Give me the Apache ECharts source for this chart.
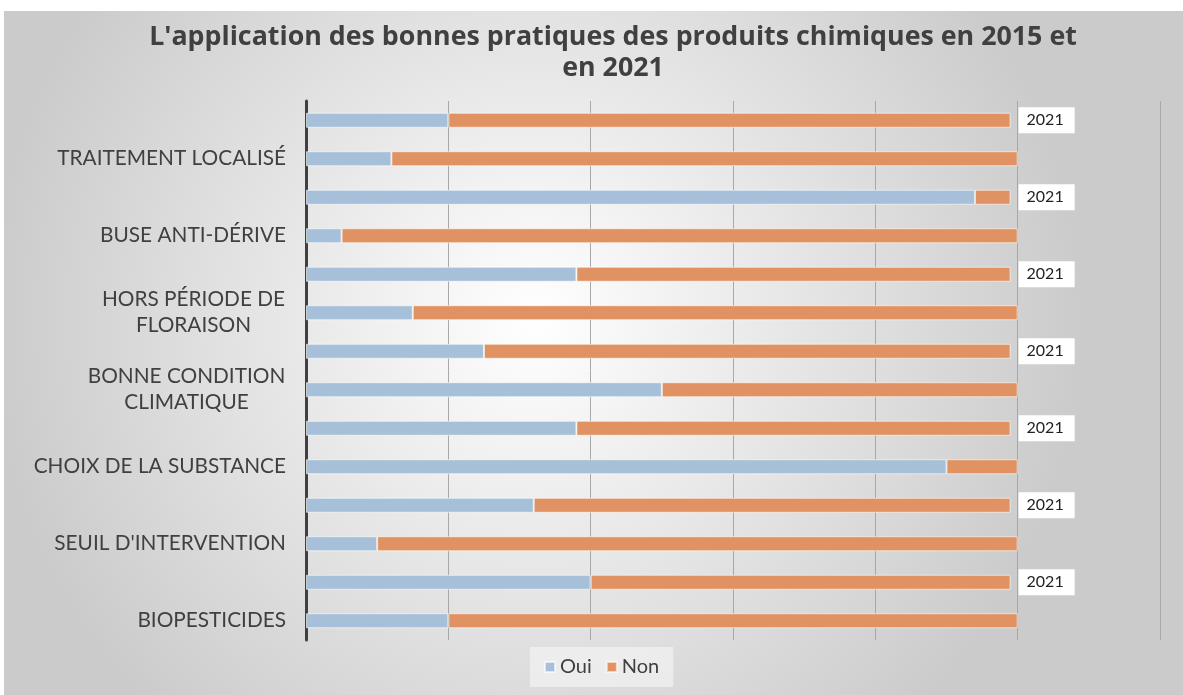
<!DOCTYPE html>
<html>
<head>
    <meta charset="utf-8">
    <script src="https://cdn.jsdelivr.net/npm/echarts@6/dist/echarts.min.js"></script>
    <style>
        body { margin: 0; background: #fff; }
        #main { position: absolute; left: 4px; top: 11px; width: 1179px; height: 684px; }
    </style>
</head>
<body>
    <div id="main"></div>
    <script type="text/javascript">
        // catégories (de haut en bas)
        var categories = ['TRAITEMENT LOCALISÉ', 'BUSE ANTI-DÉRIVE', 'HORS PÉRIODE DE\nFLORAISON',
            'BONNE CONDITION\nCLIMATIQUE', 'CHOIX DE LA SUBSTANCE', "SEUIL D'INTERVENTION", 'BIOPESTICIDES'];
        var years = ['2021', '2015'];
        var oui2021 = [20, 94, 38, 25, 38, 32, 40];
        var non2021 = [79, 5, 61, 74, 61, 67, 59];
        var oui2015 = [12, 5, 15, 50, 90, 10, 20];
        var non2015 = [88, 95, 85, 50, 10, 90, 80];
        var xTicks = [0, 20, 40, 60, 80, 100, 120];

        var labelFont = 'Lato';
        var labelSize = 20.8;

        // mesure du texte pour centrer les libellés sur deux lignes
        var ctx = document.createElement('canvas').getContext('2d');
        ctx.font = labelSize + 'px ' + labelFont;
        var rich = {};

        var yData = [];
        var ouiData = [];
        var nonData = [];
        categories.forEach(function (cat, i) {
            yData.push(cat + '|' + years[0]);
            yData.push(cat + '|' + years[1]);
            ouiData.push(oui2021[i], oui2015[i]);
            nonData.push({
                value: non2021[i],
                label: { show: true }
            }, non2015[i]);
            if (cat.indexOf('\n') >= 0) {
                var w = Math.max.apply(null, cat.split('\n').map(function (l) { return ctx.measureText(l).width; }));
                rich['c' + i] = { width: Math.ceil(w) + 1, align: 'center', fontSize: labelSize, fontFamily: labelFont, color: '#404040', lineHeight: 26 };
            }
        });

        var myChart = echarts.init(document.getElementById('main'));

        var option = {
            backgroundColor: {
                type: 'radial', x: 0.45, y: 0.45, r: 0.8,
                colorStops: [{ offset: 0, color: '#ffffff' }, { offset: 1, color: '#cbcbcb' }]
            },
            title: {
                text: "L'application des bonnes pratiques des produits chimiques en 2015 et\nen 2021",
                left: 604,
                top: 6,
                textAlign: 'center',
                textStyle: { fontFamily: 'Open Sans', fontWeight: 'bold', fontSize: 26.8, lineHeight: 31, color: '#404040' }
            },
            legend: {
                data: ['Oui', 'Non'],
                left: 526,
                top: 636,
                padding: [10, 14],
                backgroundColor: 'rgba(255,255,255,0.45)',
                icon: 'rect',
                itemWidth: 10,
                itemHeight: 10,
                itemGap: 14,
                textStyle: { fontFamily: labelFont, fontSize: 20, color: '#404040' }
            },
            grid: { left: 302, right: 23, top: 90, bottom: 55 },
            xAxis: {
                type: 'value',
                min: xTicks[0],
                max: xTicks[xTicks.length - 1],
                interval: xTicks[1] - xTicks[0],
                axisLabel: { show: false },
                axisLine: { show: false },
                axisTick: { show: false },
                splitLine: { lineStyle: { color: '#a8a8a8', width: 1 } }
            },
            yAxis: {
                type: 'category',
                inverse: true,
                data: yData,
                axisLine: { lineStyle: { color: '#404040', width: 3 } },
                axisTick: { show: false },
                axisLabel: {
                    margin: 20,
                    fontFamily: labelFont,
                    fontSize: labelSize,
                    color: '#404040',
                    lineHeight: 26,
                    rich: rich,
                    formatter: function (value) {
                        var parts = value.split('|');
                        if (parts[1] !== years[1]) return '';
                        var i = categories.indexOf(parts[0]);
                        if (parts[0].indexOf('\n') >= 0) {
                            return parts[0].split('\n').map(function (l) { return '{c' + i + '|' + l + '}'; }).join('\n');
                        }
                        return parts[0];
                    }
                }
            },
            series: [{
                name: 'Oui',
                type: 'bar',
                stack: 'total',
                barWidth: 15,
                data: ouiData,
                itemStyle: { color: '#a5c0d8', borderColor: 'rgba(255,255,255,0.6)', borderWidth: 1 }
            }, {
                name: 'Non',
                type: 'bar',
                stack: 'total',
                barWidth: 15,
                data: nonData,
                itemStyle: { color: '#e19262', borderColor: 'rgba(255,255,255,0.6)', borderWidth: 1 },
                label: {
                    show: false,
                    position: 'right',
                    distance: 8,
                    formatter: years[0],
                    backgroundColor: '#ffffff',
                    padding: [5, 11, 5, 8],
                    color: '#222',
                    fontFamily: labelFont,
                    fontSize: 16
                }
            }]
        };

        myChart.setOption(option);
    </script>
</body>
</html>
